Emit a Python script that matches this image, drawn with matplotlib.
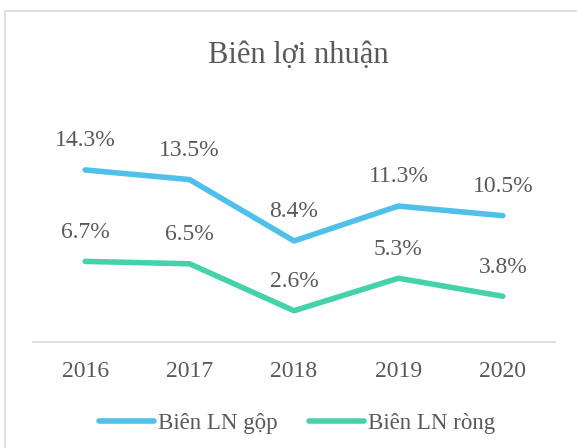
import matplotlib.pyplot as plt
from matplotlib.patches import Rectangle

years = ['2016', '2017', '2018', '2019', '2020']
gross_margin = [14.3, 13.5, 8.4, 11.3, 10.5]
net_margin = [6.7, 6.5, 2.6, 5.3, 3.8]

text_color = '#595959'
blue = '#4EC0E9'
green = '#45D1A9'

plt.rcParams['font.family'] = ['Liberation Serif', 'DejaVu Serif']

W, H = 577, 448
fig = plt.figure(figsize=(W / 100, H / 100), dpi=100)

# outer frame (only top and left edges visible in the crop)
fig.patches.append(Rectangle((5 / W, -0.1), 1.2, 1 - 11 / H + 0.1,
                             transform=fig.transFigure, fill=False,
                             edgecolor='#D9D9D9', linewidth=1.2))

# plot area: x 33..555 px, y from baseline 342 up to 16% -> ~149.5 px
ax = fig.add_axes([33 / W, 1 - 342 / H, 522 / W, 192.5 / H])
x = range(len(years))
ax.plot(x, gross_margin, color=blue, linewidth=4, solid_capstyle='round',
        solid_joinstyle='round', label='Biên LN gộp')
ax.plot(x, net_margin, color=green, linewidth=4, solid_capstyle='round',
        solid_joinstyle='round', label='Biên LN ròng')

for series in (gross_margin, net_margin):
    for i, v in enumerate(series):
        ax.annotate(f'{v:.1f}%', (i, v), xytext=(0, 17), textcoords='offset points',
                    ha='center', va='baseline', fontsize=17, color=text_color)

ax.set_xlim(-0.5, len(years) - 0.5)
ax.set_ylim(0, 16)
ax.set_xticks(list(x))
ax.set_xticklabels(years, fontsize=17, color=text_color)
ax.tick_params(axis='x', length=0, pad=14)
ax.set_yticks([])
for side in ('top', 'left', 'right'):
    ax.spines[side].set_visible(False)
ax.spines['bottom'].set_color('#D9D9D9')
ax.spines['bottom'].set_linewidth(1.2)

fig.text(298 / W, 1 - 63 / H, 'Biên lợi nhuận', ha='center', va='baseline',
         fontsize=22, color=text_color)

fig.legend(loc='center', bbox_to_anchor=(297 / W, 1 - 423 / H), ncol=2, frameon=False,
           fontsize=16.5, labelcolor=text_color, handlelength=2.4, handletextpad=0.17,
           columnspacing=1.35)

fig.savefig('out.png', dpi=100)
